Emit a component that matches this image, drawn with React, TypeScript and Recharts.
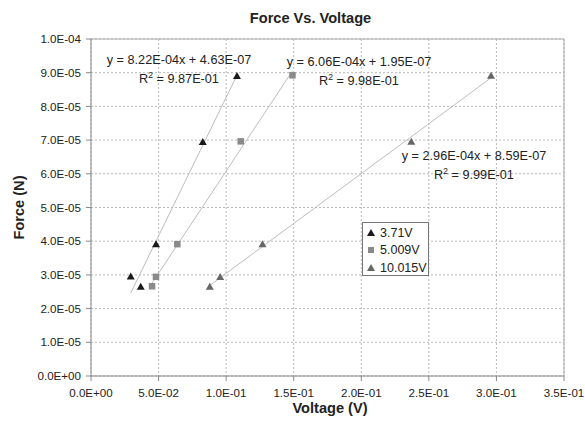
import React from 'react';
import {
  ScatterChart,
  Scatter,
  XAxis,
  YAxis,
  CartesianGrid,
  ReferenceLine,
} from 'recharts';

// measured points (voltage V, force N)
const volts371 = [0.0294, 0.0368, 0.0481, 0.0827, 0.108];
const force371 = [2.95e-5, 2.65e-5, 3.91e-5, 6.94e-5, 8.9e-5];
const volts5009 = [0.045, 0.0479, 0.0637, 0.1106, 0.1489];
const force5009 = [2.67e-5, 2.95e-5, 3.92e-5, 6.97e-5, 8.93e-5];
const volts10015 = [0.0879, 0.0956, 0.1269, 0.237, 0.296];
const force10015 = [2.65e-5, 2.94e-5, 3.91e-5, 6.95e-5, 8.91e-5];

// linear fits shown on the chart
const slopes = [8.22e-4, 6.06e-4, 2.96e-4];
const intercepts = [4.63e-7, 1.95e-7, 8.59e-7];
const equations = [
  ['y = 8.22E-04x + 4.63E-07', '9.87E-01'],
  ['y = 6.06E-04x + 1.95E-07', '9.98E-01'],
  ['y = 2.96E-04x + 8.59E-07', '9.99E-01'],
];

const seriesNames = ['3.71V', '5.009V', '10.015V'];
const xTicks = [0, 0.05, 0.1, 0.15, 0.2, 0.25, 0.3, 0.35];
const yTicks = [0, 1e-5, 2e-5, 3e-5, 4e-5, 5e-5, 6e-5, 7e-5, 8e-5, 9e-5, 1e-4];

const FONT = '"Liberation Sans", Arial, sans-serif';
const COLORS = ['#1a1a1a', '#8a8a8a', '#666666'];
const TREND = '#bdbdbd';

const toPoints = (xs: number[], ys: number[]) => xs.map((x, i) => ({ x, y: ys[i] }));

const trendLine = (xs: number[], k: number) => {
  const lo = Math.min(...xs);
  const hi = Math.max(...xs);
  return [
    { x: lo, y: slopes[k] * lo + intercepts[k] },
    { x: hi, y: slopes[k] * hi + intercepts[k] },
  ];
};

const sci = (v: number) => {
  if (v === 0) return '0.0E+00';
  const exp = Math.floor(Math.log10(Math.abs(v)) + 1e-9);
  const mant = v / Math.pow(10, exp);
  const sign = exp < 0 ? '-' : '+';
  return `${mant.toFixed(1)}E${sign}${String(Math.abs(exp)).padStart(2, '0')}`;
};

const triangle = (fill: string) => (props: any) => {
  const { cx, cy } = props;
  return <polygon points={`${cx},${cy - 4} ${cx + 4},${cy + 3} ${cx - 4},${cy + 3}`} fill={fill} />;
};

const square = (fill: string) => (props: any) => {
  const { cx, cy } = props;
  return <rect x={cx - 3} y={cy - 3} width={6.5} height={6.5} fill={fill} />;
};

const noDot = () => <g />;

const data371 = toPoints(volts371, force371);
const data5009 = toPoints(volts5009, force5009);
const data10015 = toPoints(volts10015, force10015);

// where each equation label sits (px centre / baseline of the first line)
const eqPos = [
  [179, 64],
  [359, 66],
  [474, 160],
];

export default function App() {
  const tick = { fill: '#222', fontSize: 11.6, fontFamily: FONT };
  return (
    <div style={{ position: 'absolute', left: 0, top: 0, width: 585, height: 427, background: '#fff' }}>
      <ScatterChart width={585} height={427} margin={{ top: 39, right: 21, bottom: 0, left: 0 }}>
        <CartesianGrid stroke="#b8b8b8" strokeDasharray="2 2" />
        <XAxis
          type="number"
          dataKey="x"
          domain={[0, 0.35]}
          ticks={xTicks}
          tickFormatter={sci}
          tick={tick}
          height={51}
          tickSize={5}
          tickMargin={8}
          stroke="#888"
          interval={0}
        />
        <YAxis
          type="number"
          dataKey="y"
          domain={[0, 1e-4]}
          ticks={yTicks}
          tickFormatter={sci}
          tick={tick}
          width={91}
          tickSize={5}
          tickMargin={5}
          stroke="#888"
          interval={0}
        />
        <ReferenceLine y={1e-4} stroke="#aaa" />
        <ReferenceLine x={0.35} stroke="#aaa" />
        <Scatter data={trendLine(volts371, 0)} line={{ stroke: TREND, strokeWidth: 1 }} shape={noDot} legendType="none" isAnimationActive={false} />
        <Scatter data={trendLine(volts5009, 1)} line={{ stroke: TREND, strokeWidth: 1 }} shape={noDot} legendType="none" isAnimationActive={false} />
        <Scatter data={trendLine(volts10015, 2)} line={{ stroke: TREND, strokeWidth: 1 }} shape={noDot} legendType="none" isAnimationActive={false} />
        <Scatter name={seriesNames[0]} data={data371} shape={triangle(COLORS[0])} isAnimationActive={false} />
        <Scatter name={seriesNames[1]} data={data5009} shape={square(COLORS[1])} isAnimationActive={false} />
        <Scatter name={seriesNames[2]} data={data10015} shape={triangle(COLORS[2])} isAnimationActive={false} />
      </ScatterChart>

      <svg width={585} height={427} style={{ position: 'absolute', left: 0, top: 0, pointerEvents: 'none' }}>
        <text x={310.5} y={22.5} textAnchor="middle" fontFamily={FONT} fontSize={14.6} fontWeight="bold" fill="#222">
          Force Vs. Voltage
        </text>
        <text x={330} y={413} textAnchor="middle" fontFamily={FONT} fontSize={14.6} fontWeight="bold" fill="#222">
          Voltage (V)
        </text>
        <text
          transform="translate(24,207.5) rotate(-90)"
          textAnchor="middle"
          fontFamily={FONT}
          fontSize={14.6}
          fontWeight="bold"
          fill="#222"
        >
          Force (N)
        </text>
        {equations.map(([eq, r2], i) => (
          <g key={i} fontFamily={FONT} fontSize={12.7} fill="#222">
            <text x={eqPos[i][0]} y={eqPos[i][1]} textAnchor="middle">{eq}</text>
            <text x={eqPos[i][0]} y={eqPos[i][1] + 19} textAnchor="middle">
              R<tspan dy={-5} fontSize={8.5}>2</tspan>
              <tspan dy={5}> = {r2}</tspan>
            </text>
          </g>
        ))}
      </svg>

      <div
        style={{
          position: 'absolute',
          left: 362,
          top: 222,
          width: 67,
          height: 54,
          border: '1px solid #777',
          background: '#fff',
          fontFamily: FONT,
          fontSize: 12.5,
          color: '#222',
          boxSizing: 'border-box',
          paddingTop: 1,
        }}
      >
        {seriesNames.map((name, i) => (
          <div key={name} style={{ display: 'flex', alignItems: 'center', height: 17.5, paddingLeft: 3 }}>
            <svg width={10} height={10} style={{ marginRight: 4 }}>
              {i === 1 ? (
                <rect x={2} y={2} width={6} height={6} fill={COLORS[i]} />
              ) : (
                <polygon points="5,1 9,8 1,8" fill={COLORS[i]} />
              )}
            </svg>
            <span>{name}</span>
          </div>
        ))}
      </div>
    </div>
  );
}
